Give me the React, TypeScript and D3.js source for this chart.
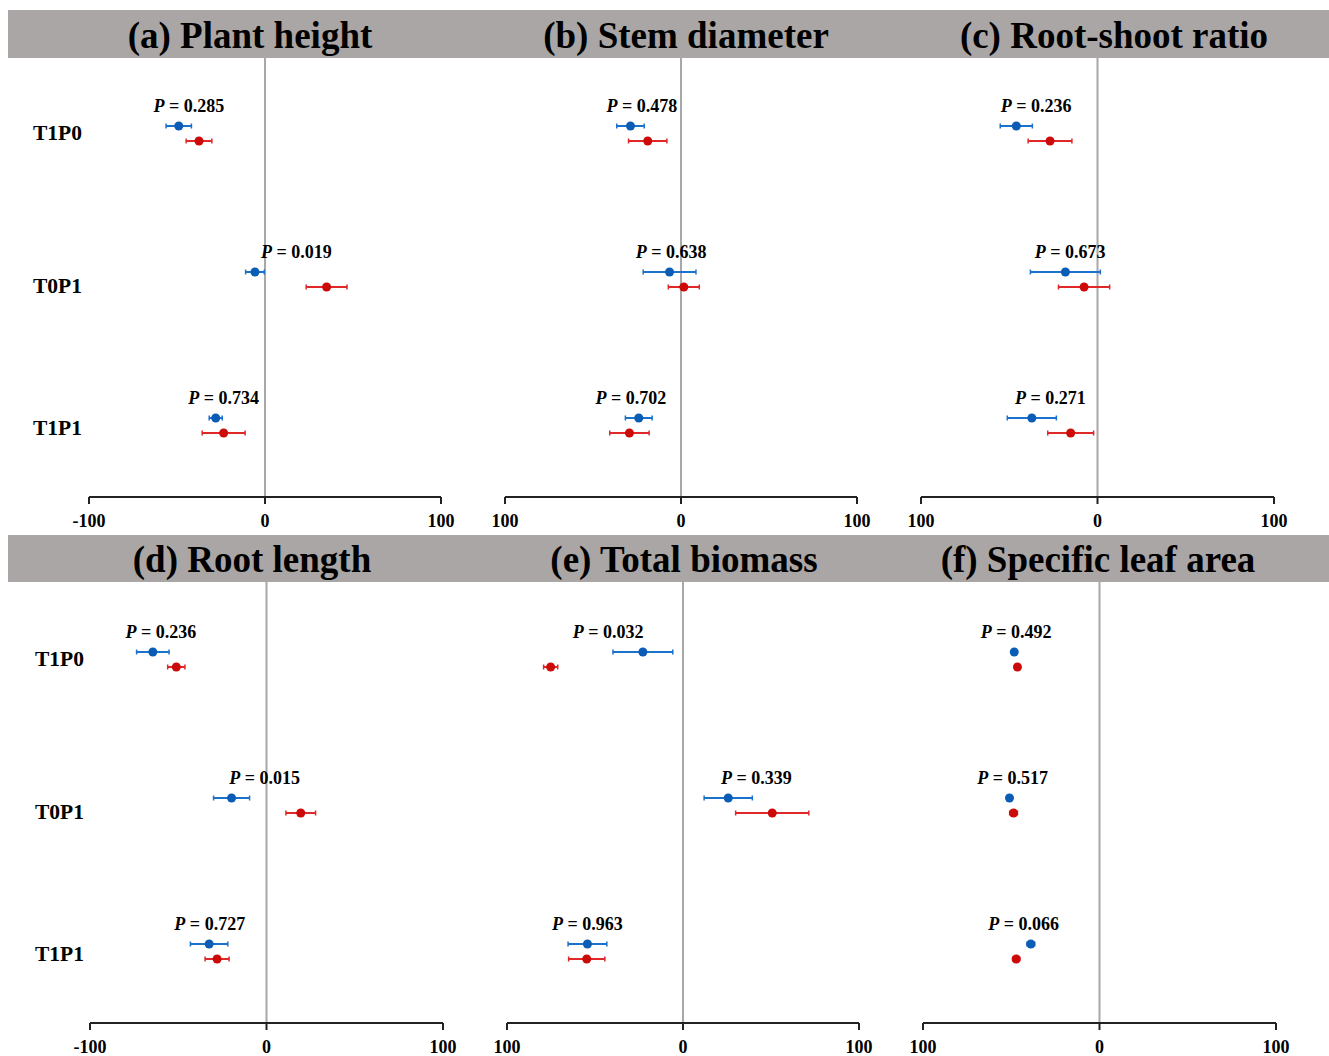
import React from "react";
import * as d3 from "d3";

// Treatment combinations shown on every panel
const categories = ["T1P0", "T0P1", "T1P1"];

// Panel titles
const titles = [
  "(a) Plant height",
  "(b) Stem diameter",
  "(c) Root-shoot ratio",
  "(d) Root length",
  "(e) Total biomass",
  "(f) Specific leaf area",
];

// Effect sizes (%) and half error-bar widths, blue series
const blueMean = [
  [-49, -5.7, -28],
  [-28.7, -6.5, -24],
  [-46, -18.2, -37.2],
  [-64.4, -19.8, -32.5],
  [-22.8, 25.7, -54.3],
  [-48.3, -51, -38.9],
];
const blueErr = [
  [7.2, 5.3, 3.7],
  [7.8, 15, 7.6],
  [9.1, 19.8, 13.9],
  [9.2, 10.2, 10.6],
  [17, 13.7, 11],
  [1, 1, 2.2],
];

// Effect sizes (%) and half error-bar widths, red series
const redMean = [
  [-37.5, 35, -23.5],
  [-18.9, 1.6, -29.3],
  [-26.9, -7.6, -15.2],
  [-51.1, 19.4, -28],
  [-75.2, 50.7, -54.7],
  [-46.5, -48.7, -47.2],
];
const redErr = [
  [7.3, 11.6, 12.2],
  [10.9, 8.8, 11.2],
  [12.4, 14.5, 13],
  [4.9, 8.4, 6.8],
  [4, 20.8, 10.3],
  [1.2, 2.2, 2],
];

// P values printed above each pair
const pValues = [
  ["0.285", "0.019", "0.734"],
  ["0.478", "0.638", "0.702"],
  ["0.236", "0.673", "0.271"],
  ["0.236", "0.015", "0.727"],
  ["0.032", "0.339", "0.963"],
  ["0.492", "0.517", "0.066"],
];

// Axis ticks and their printed labels
const tickValues = [-100, 0, 100];
const tickLabelsFirst = ["-100", "0", "100"];
const tickLabelsOther = ["100", "0", "100"];

// ---- layout ----
const W = 1329;
const H = 1056;
const FONT = "'Liberation Serif', 'Times New Roman', Times, serif";
const BLUE = "#1a72cc";
const BLUE_DOT = "#0b5cb5";
const RED = "#e02828";
const RED_DOT = "#cc0a0a";
const HEADER = "#aaa6a5";

const rows = [
  { headerTop: 10, headerBottom: 58, axisY: 497, firstY: 126, tickLabelY: 521 },
  { headerTop: 535, headerBottom: 582, axisY: 1023, firstY: 652, tickLabelY: 1047 },
];
const panelRanges: [number, number][] = [
  [89, 441],
  [505, 857],
  [921, 1274],
  [90, 443],
  [507, 859],
  [923, 1276],
];
const titleX = [250, 686, 1114, 252, 684, 1098];
const ROW_STEP = 146;
const PAIR_GAP = 15;
const labelOffsets = [7, 14, 10];

function Panel({ idx }: { idx: number }) {
  const row = rows[Math.floor(idx / 3)];
  const col = idx % 3;
  const x = d3.scaleLinear().domain([-100, 100]).range(panelRanges[idx]);
  const y = d3
    .scalePoint<string>()
    .domain(categories)
    .range([row.firstY, row.firstY + ROW_STEP * (categories.length - 1)]);
  const tickLabels = col === 0 ? tickLabelsFirst : tickLabelsOther;
  const x0 = x(0);

  const errBar = (mean: number, err: number, cy: number, line: string, dot: string, key: string) => (
    <g key={key}>
      <line x1={x(mean - err)} x2={x(mean + err)} y1={cy} y2={cy} stroke={line} strokeWidth={2} />
      <line x1={x(mean - err)} x2={x(mean - err)} y1={cy - 2.5} y2={cy + 2.5} stroke={line} strokeWidth={1.5} />
      <line x1={x(mean + err)} x2={x(mean + err)} y1={cy - 2.5} y2={cy + 2.5} stroke={line} strokeWidth={1.5} />
      <circle cx={x(mean)} cy={cy} r={4.5} fill={dot} />
    </g>
  );

  return (
    <g>
      <text
        x={titleX[idx]}
        y={(row.headerTop + row.headerBottom) / 2 + 1}
        textAnchor="middle"
        dominantBaseline="central"
        fontFamily={FONT}
        fontWeight="bold"
        fontSize={37}
        fill="#000"
      >
        {titles[idx]}
      </text>
      {/* zero reference line */}
      <line x1={x0} x2={x0} y1={row.headerBottom} y2={row.axisY} stroke="#a8a8a8" strokeWidth={2} />
      {/* bottom axis */}
      <line x1={x(-100)} x2={x(100)} y1={row.axisY} y2={row.axisY} stroke="#222" strokeWidth={2} />
      {tickValues.map((t, i) => (
        <g key={t}>
          <line x1={x(t)} x2={x(t)} y1={row.axisY} y2={row.axisY + 7} stroke="#222" strokeWidth={2} />
          <text
            x={x(t)}
            y={row.tickLabelY}
            textAnchor="middle"
            dominantBaseline="central"
            fontFamily={FONT}
            fontWeight="bold"
            fontSize={18}
          >
            {tickLabels[i]}
          </text>
        </g>
      ))}
      {categories.map((c, i) => {
        const by = y(c) as number;
        const ry = by + PAIR_GAP;
        const lo = Math.min(blueMean[idx][i] - blueErr[idx][i], redMean[idx][i] - redErr[idx][i]);
        const hi = Math.max(blueMean[idx][i] + blueErr[idx][i], redMean[idx][i] + redErr[idx][i]);
        return (
          <g key={c}>
            <text
              x={x((lo + hi) / 2)}
              y={by - 20}
              textAnchor="middle"
              dominantBaseline="central"
              fontFamily={FONT}
              fontWeight="bold"
              fontSize={18}
            >
              <tspan fontStyle="italic">P</tspan>
              <tspan> = {pValues[idx][i]}</tspan>
            </text>
            {errBar(blueMean[idx][i], blueErr[idx][i], by, BLUE, BLUE_DOT, "b")}
            {errBar(redMean[idx][i], redErr[idx][i], ry, RED, RED_DOT, "r")}
            {col === 0 && (
              <text
                x={idx === 0 ? 33 : 35}
                y={by + labelOffsets[i]}
                dominantBaseline="central"
                fontFamily={FONT}
                fontWeight="bold"
                fontSize={21.5}
              >
                {c}
              </text>
            )}
          </g>
        );
      })}
    </g>
  );
}

export default function App() {
  return (
    <svg
      width={W}
      height={H}
      viewBox={`0 0 ${W} ${H}`}
      style={{ position: "absolute", left: 0, top: 0, background: "#fff" }}
    >
      <rect x={0} y={0} width={W} height={H} fill="#fff" />
      {rows.map((r, i) => (
        <rect key={i} x={8} y={r.headerTop} width={W - 8} height={r.headerBottom - r.headerTop} fill={HEADER} />
      ))}
      {titles.map((_, i) => (
        <Panel key={i} idx={i} />
      ))}
    </svg>
  );
}
